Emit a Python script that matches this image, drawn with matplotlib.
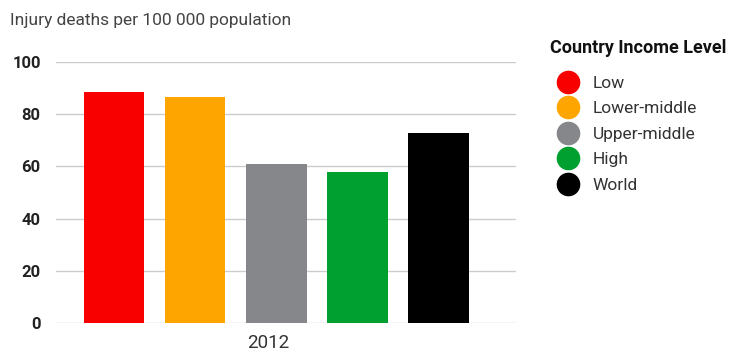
import matplotlib.pyplot as plt
from matplotlib.lines import Line2D

# data
categories = ['Low', 'Lower-middle', 'Upper-middle', 'High', 'World']
values = [88.5, 86.6, 60.9, 57.9, 72.8]
colors = ['#f80000', '#ffa500', '#85878a', '#00a030', '#000000']
year = '2012'

plt.rcParams['font.family'] = ['Roboto', 'DejaVu Sans']

fig = plt.figure(figsize=(7.47, 3.56), dpi=100)
ax = fig.add_axes([56/747, 1 - 323/356, 460/747, 261/356])

x = list(range(len(categories)))
ax.bar(x, values, width=0.75, color=colors, zorder=3)

ax.set_ylim(0, 100)
ax.set_yticks([0, 20, 40, 60, 80, 100])
ax.set_xlim(-0.716, 4.96)
ax.yaxis.grid(True, color='#cccccc', linewidth=1, zorder=0)
for s in ax.spines.values():
    s.set_visible(False)
ax.tick_params(axis='y', length=0, pad=11, labelsize=12, labelcolor='#222222')
for lbl in ax.get_yticklabels():
    lbl.set_fontweight('bold')
ax.set_xticks([1.9])
ax.set_xticklabels([year])
ax.tick_params(axis='x', length=0, pad=8, labelsize=13.5, labelcolor='#333333')

fig.text(10/747, 1 - 20/356, 'Injury deaths per 100 000 population',
         fontsize=12.5, color='#444444', va='center', ha='left')

# legend title drawn separately so its gap to the entries can be set
fig.text(550/747, 1 - 48/356, 'Country Income Level', fontsize=13,
         fontweight='bold', color='#111111', va='center', ha='left')

handles = [Line2D([], [], marker='o', linestyle='none', markersize=16,
                  markerfacecolor=c, markeredgecolor=c) for c in colors]
leg = fig.legend(handles, categories, loc='upper left',
                 bbox_to_anchor=(537/747, 1 - 62/356), frameon=False,
                 fontsize=12.5, labelspacing=0.59, handletextpad=0.4,
                 borderpad=0.3, labelcolor='#333333')

fig.savefig('out.png', dpi=100)
